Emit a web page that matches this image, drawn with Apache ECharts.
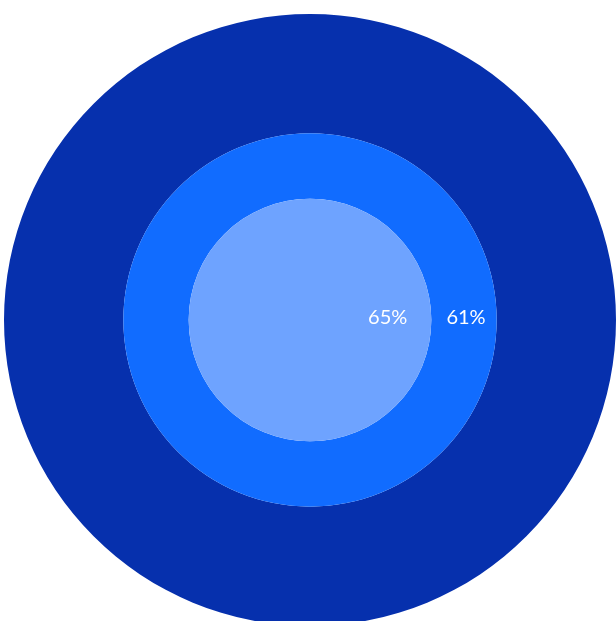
<!DOCTYPE html>
<html>
<head>
<meta charset="utf-8">
<script src="https://cdn.jsdelivr.net/npm/echarts@6/dist/echarts.min.js"></script>
<style>
  html, body { margin: 0; padding: 0; background: #fff; }
  #main { width: 616px; height: 621px; }
</style>
</head>
<body>
<div id="main"></div>
<script>
// rings from outer to inner, each one a share of the ring outside it
const names = ['outer', 'middle', 'inner'];
const shares = [100, 61, 65];
const colors = ['#0630ad', '#116cff', '#6ea3ff'];

const chart = echarts.init(document.getElementById('main'));
const outerRadius = 306;

// radius of each circle follows from the shares
const radii = [];
let r = outerRadius;
shares.forEach((s, i) => {
    r = i === 0 ? outerRadius : r * s / 100;
    radii.push(r);
});

const series = names.map((name, i) => ({
    name: name,
    type: 'pie',
    center: [310, 320],
    radius: [i === radii.length - 1 ? 0 : radii[i + 1], radii[i]],
    startAngle: 180,
    silent: true,
    animation: false,
    itemStyle: { color: colors[i], borderWidth: 0 },
    label: {
        show: i > 0,
        position: 'inside',
        formatter: shares[i] + '%',
        color: '#fff',
        fontFamily: 'Lato',
        fontSize: 20
    },
    labelLine: { show: false },
    labelLayout: i === radii.length - 1 ? { dx: 14, dy: -2 } : { dx: -1, dy: -2 },
    data: [{ name: name, value: 1 }]
}));

const option = {
    backgroundColor: '#fff',
    animation: false,
    series: series
};

option && chart.setOption(option);
</script>
</body>
</html>
